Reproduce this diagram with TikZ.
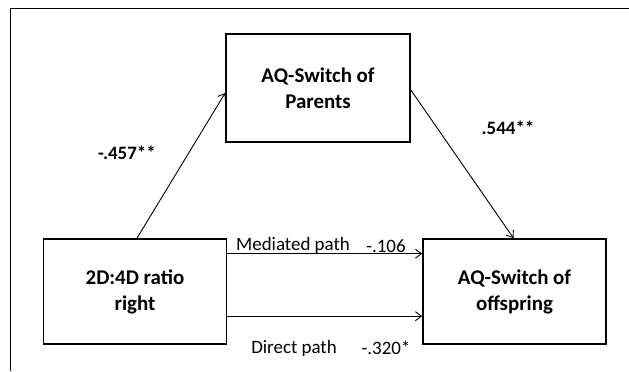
\documentclass[tikz,border=0pt]{standalone}
\usepackage{fontspec}
\setmainfont{Carlito}
\usetikzlibrary{arrows.meta}
\begin{document}
\begin{tikzpicture}[x=1bp,y=-1bp,
  box/.style={draw,line width=1.7pt,minimum width=183bp,minimum height=105bp,inner sep=0pt,align=center,font=\fontsize{21}{26}\selectfont\bfseries},
  conn/.style={line width=0.9pt,-{Straight Barb[length=6bp,width=9bp,line width=0.9pt]}},
  lbl/.style={inner sep=0pt,font=\fontsize{19}{22}\selectfont},
  blbl/.style={inner sep=0pt,font=\fontsize{19}{22}\selectfont\bfseries}]
\useasboundingbox (0,0) rectangle (629,371);
\fill[white] (0,0) rectangle (629,371);
\coordinate (fl) at (10,371);
\coordinate (fc) at (10,8);
\coordinate (fr) at (629,8);
\draw[line width=1pt] (fl) -- (fc) -- (fr);
\node[box,minimum width=184bp,minimum height=108bp] (par) at (318,88) {AQ-Switch of\\Parents};
\node[box] (ratio) at (135,291.5) {2D:4D ratio\\right};
\node[box] (off) at (514.5,291.5) {AQ-Switch of\\offspring};
\draw[conn] ([xshift=2bp]ratio.north) -- ([yshift=-5bp]par.west);
\draw[conn] ([yshift=-2bp]par.east) -- ([xshift=-1bp]off.north);
\draw[conn] ([yshift=-15.5bp]ratio.north east) -- ([yshift=-15.5bp]off.north west);
\draw[conn] ([yshift=-78bp]ratio.north east) -- ([yshift=-78bp]off.north west);
\node[blbl] (a) at (127,153) {-.457**};
\node[blbl] (b) at (508,128) {.544**};
\node[lbl] (m) at (293,245) {Mediated path};
\node[lbl] (mv) at (386,246) {-.106};
\node[lbl] (d) at (294,348) {Direct path};
\node[lbl] (dv) at (386,348) {-.320*};
\end{tikzpicture}
\end{document}
